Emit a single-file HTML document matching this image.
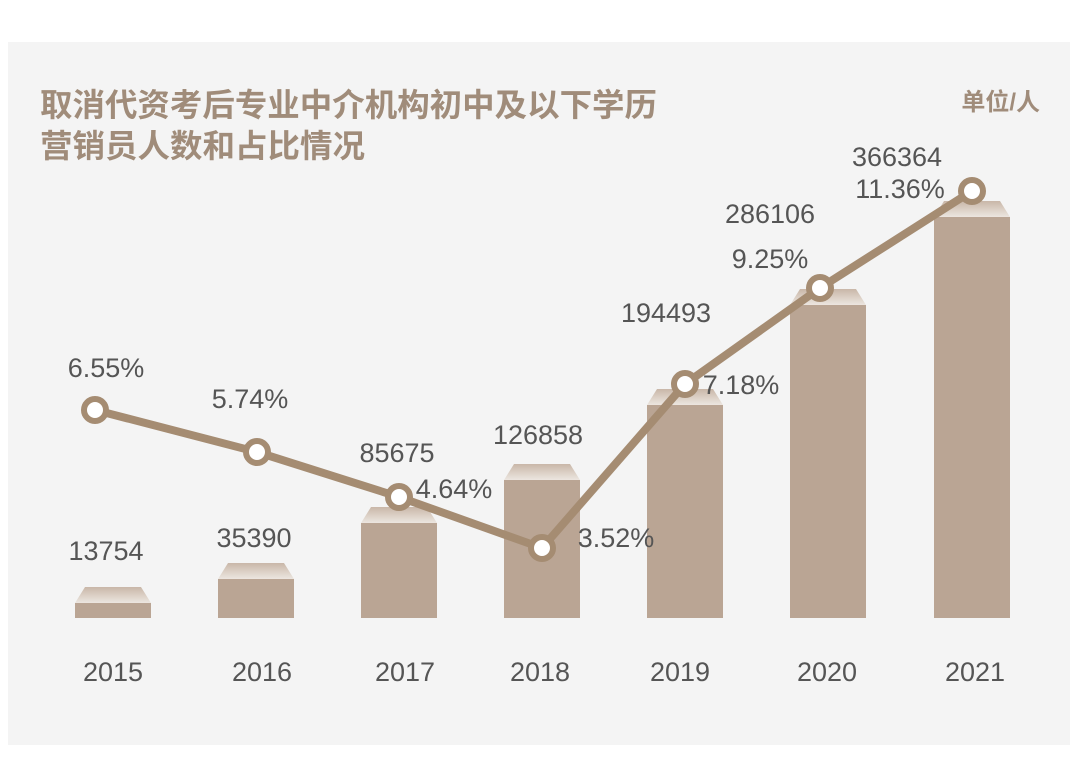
<!DOCTYPE html>
<html><head><meta charset="utf-8"><style>
body{margin:0;background:#fff;width:1080px;height:770px;overflow:hidden}
svg{display:block}
text{font-family:"Liberation Sans","Noto Sans CJK SC",sans-serif}
</style></head><body>
<svg width="1080" height="770" viewBox="0 0 1080 770">
<defs><linearGradient id="cap" x1="0" y1="0" x2="0" y2="1"><stop offset="0" stop-color="#c9b7a8"/><stop offset="1" stop-color="#ece6e0"/></linearGradient></defs>
<rect x="8" y="42" width="1062" height="703" fill="#f4f4f4"/>
<g font-weight="bold" fill="#a08c7a">
<text x="40" y="116" font-size="32" textLength="617" lengthAdjust="spacingAndGlyphs">取消代资考后专业中介机构初中及以下学历</text>
<text x="40" y="157" font-size="32" textLength="325" lengthAdjust="spacingAndGlyphs">营销员人数和占比情况</text>
<text x="1040" y="110" text-anchor="end" font-size="24">单位/人</text>
</g>
<g fill="#baa594">
<rect x="75" y="603" width="76" height="15"/>
<rect x="218" y="579" width="76" height="39"/>
<rect x="361" y="523" width="76" height="95"/>
<rect x="504" y="480" width="76" height="138"/>
<rect x="647" y="405" width="76" height="213"/>
<rect x="790" y="305" width="76" height="313"/>
<rect x="934" y="217" width="76" height="401"/>
</g>
<g fill="url(#cap)">
<polygon points="75,603 151,603 141,587 85,587"/>
<polygon points="218,579 294,579 284,563 228,563"/>
<polygon points="361,523 437,523 427,507 371,507"/>
<polygon points="504,480 580,480 570,464 514,464"/>
<polygon points="647,405 723,405 713,389 657,389"/>
<polygon points="790,305 866,305 856,289 800,289"/>
<polygon points="934,217 1010,217 1000,201 944,201"/>
</g>
<polyline points="95,410 257,452 399,497 542,548 685,384 820,288 972,191" fill="none" stroke="#a58c72" stroke-width="8" stroke-linejoin="round"/>
<g fill="#fff" stroke="#a58c72" stroke-width="6">
<circle cx="95" cy="410" r="11"/><circle cx="257" cy="452" r="11"/><circle cx="399" cy="497" r="11"/><circle cx="542" cy="548" r="11"/><circle cx="685" cy="384" r="11"/><circle cx="820" cy="288" r="11"/><circle cx="972" cy="191" r="11"/>
</g>
<g font-size="27" fill="#555" text-anchor="middle">
<text x="106" y="560">13754</text>
<text x="254" y="547">35390</text>
<text x="397" y="462">85675</text>
<text x="538" y="444">126858</text>
<text x="666" y="322">194493</text>
<text x="770" y="223">286106</text>
<text x="897" y="166">366364</text>
<text x="106" y="377">6.55%</text>
<text x="250" y="408">5.74%</text>
<text x="454" y="498">4.64%</text>
<text x="616" y="547">3.52%</text>
<text x="741" y="394">7.18%</text>
<text x="770" y="268">9.25%</text>
<text x="900" y="198">11.36%</text>
</g>
<g font-size="27" fill="#555" text-anchor="middle">
<text x="113" y="681">2015</text><text x="262" y="681">2016</text><text x="405" y="681">2017</text><text x="540" y="681">2018</text><text x="680" y="681">2019</text><text x="827" y="681">2020</text><text x="975" y="681">2021</text>
</g>
</svg>
</body></html>
